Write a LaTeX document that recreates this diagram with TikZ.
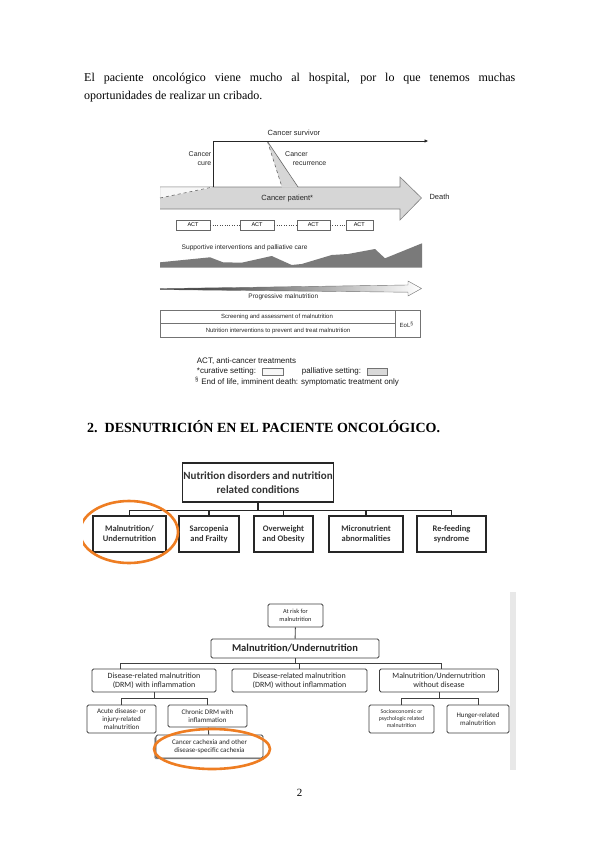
\documentclass[tikz,border=0pt]{standalone}
\usepackage{fontspec}
\setmainfont{Liberation Serif}
\newfontfamily\arialf{Liberation Sans}
\newfontfamily\calf{Carlito}
\usetikzlibrary{arrows.meta,calc}
\definecolor{orng}{HTML}{EE7D22}
\definecolor{arrfill}{HTML}{D6D6D6}
\definecolor{mount}{HTML}{7A7A7A}
\begin{document}
\begin{tikzpicture}[x=1pt,y=-1pt,
  body/.style={font=\fontsize{12}{14}\selectfont, inner sep=0pt},
  tl/.style={font=\arialf\fontsize{7.5}{8.5}\selectfont, inner sep=0pt, text=black!85},
  sl/.style={font=\arialf\fontsize{6}{7}\selectfont, inner sep=0pt, text=black!85},
  lg/.style={font=\arialf\fontsize{8}{9}\selectfont, inner sep=0pt, text=black!90},
  actbox/.style={draw=black!60, fill=white, minimum width=#1, minimum height=10pt, inner sep=0pt, font=\arialf\fontsize{5.5}{6}\selectfont},
  mbox/.style={draw=black!85, line width=1.3pt, font=\calf\bfseries\fontsize{8.5}{10}\selectfont, align=center, inner sep=1pt, text=black!80, fill=white, minimum height=36pt},
  bbox/.style={draw=black!75, line width=0.9pt, rounded corners=1.5pt, font=\calf\fontsize{8}{9}\selectfont, align=center, inner sep=0.5pt, fill=white, text=black!85},
  ring/.style={draw=orng, line width=2.6pt},
  conn/.style={draw=black!85, line width=1.2pt},
  conn2/.style={draw=black!75, line width=0.9pt},
]
\useasboundingbox (0,0) rectangle (599,848);
\fill[white] (0,0) rectangle (599,848);

% ---------- paragraph ----------
\node[body, anchor=base west] (p1) at (84,82) {\makebox[431pt][s]{El paciente oncológico viene mucho al hospital, por lo que tenemos muchas}};
\node[body, anchor=base west] (p2) at (84,100) {oportunidades de realizar un cribado.};

% ---------- cancer trajectory ----------
\fill[arrfill] (160,187) -- (400,187) -- (400,177) -- (421.5,198) -- (400,220) -- (400,209) -- (160,209) -- cycle;
\draw[black!50, line width=0.6pt] (160,187) -- (400,187) -- (400,177) -- (421.5,198) -- (400,220) -- (400,209) -- (160,209);
\fill[gray!6] (160.3,187.4) -- (213,187.4) -- (160.3,198) -- cycle;
\draw[dashed, black!60, line width=0.6pt] (160,198) -- (213,187);
\fill[arrfill] (267.5,141.5) -- (298,187.6) -- (282,187.6) -- cycle;
\draw[dashed, black!60, line width=0.6pt] (267.5,141.5) -- (282,187);
\draw[black!60, line width=0.6pt] (267.5,141.5) -- (298,187);
\draw[black!85, line width=0.9pt, -{Latex[length=4pt,width=3.5pt]}] (213,187) -- (213,141) -- (428.5,141);

\node[tl] (surv) at (294,132.7) {Cancer survivor};
\node[tl, font=\arialf\fontsize{7}{9}\selectfont, align=right, anchor=east] (cure) at (211.5,158.8) {Cancer\\cure};
\node[tl, font=\arialf\fontsize{7}{9}\selectfont, anchor=west] (rec1) at (285,154.3) {Cancer};
\node[tl, font=\arialf\fontsize{7}{9}\selectfont, anchor=west] (rec2) at (292.7,163.3) {recurrence};
\node[tl] (pat) at (287.3,199) {Cancer patient*};
\node[tl, anchor=west] (death) at (429.3,196.7) {Death};

\node[actbox=34pt] (a1) at (193,225) {ACT};
\node[actbox=34pt] (a2) at (257,225) {ACT};
\node[actbox=33pt] (a3) at (313.3,225) {ACT};
\node[actbox=27pt] (a4) at (359.3,225) {ACT};
\draw[dotted, black!70] (a1) -- (a2);
\draw[dotted, black!70] (a2) -- (a3);
\draw[dotted, black!70] (a3) -- (a4);

\node[tl, font=\arialf\fontsize{6.6}{8}\selectfont, anchor=west] (supp) at (181.5,247.8) {Supportive interventions and palliative care};
\fill[mount] (160,267.5) -- (160,262.3) -- (210,257.3) -- (223,262.3) -- (241.7,262.7) -- (271.7,256) -- (291.7,265) -- (301.7,264) -- (331.7,255) -- (348,254) -- (375,249) -- (385,258.3) -- (422,243.3) -- (422,267.5) -- cycle;

\shade[left color=black!85, right color=white] (160,288.6) -- (408,285) -- (408,281) -- (421.5,288.5) -- (408,296) -- (408,292.2) -- (160,289.6) -- cycle;
\draw[black!55, line width=0.4pt] (160,288.6) -- (408,285) -- (408,281) -- (421.5,288.5) -- (408,296) -- (408,292.2) -- (160,289.6);
\node[sl, font=\arialf\fontsize{6.5}{8}\selectfont] (prog) at (283.3,296.5) {Progressive malnutrition};

\draw[black!55, line width=0.5pt] (160,310) rectangle (420,337.3);
\draw[black!55, line width=0.5pt] (160,323.3) -- (395,323.3);
\draw[black!55, line width=0.5pt] (395,310) -- (395,337.3);
\node[sl] (scr) at (277,317) {Screening and assessment of malnutrition};
\node[sl] (nut) at (278,330.5) {Nutrition interventions to prevent and treat malnutrition};
\node[sl] (eol) at (406.7,324.5) {EoL\textsuperscript{\S}};

\node[lg, anchor=west] (lg1) at (196.7,361.5) {ACT, anti-cancer treatments};
\node[lg, anchor=west] (lg2) at (196.7,371.5) {*curative setting:};
\draw[black!55, fill=gray!6] (262.3,368) rectangle (283.3,375.2);
\node[lg, anchor=west] (lg3) at (301.7,371.5) {palliative setting:};
\draw[black!55, fill=gray!30] (366.7,368) rectangle (387.3,375.2);
\node[lg, anchor=west] (lg4) at (195,381.5) {\textsuperscript{\S} End of life, imminent death: symptomatic treatment only};

% ---------- heading ----------
\node[font=\bfseries\fontsize{14}{16}\selectfont, anchor=base west, inner sep=0pt] (head) at (87,432) {2.\hspace{7pt}DESNUTRICIÓN EN EL PACIENTE ONCOLÓGICO.};

% ---------- nutrition disorders ----------
\node[mbox, font=\calf\bfseries\fontsize{11}{13.5}\selectfont, minimum width=144pt, minimum height=39pt] (top) at (258,482.5) {Nutrition disorders and nutrition\\related conditions};
\node[mbox, minimum width=73pt] (m1) at (129.5,534) {Malnutrition/\\Undernutrition};
\node[mbox, minimum width=60pt] (m2) at (209,534) {Sarcopenia\\and Frailty};
\node[mbox, minimum width=59pt] (m3) at (283.5,534) {Overweight\\and Obesity};
\node[mbox, minimum width=74pt] (m4) at (366,534) {Micronutrient\\abnormalities};
\node[mbox, minimum width=69pt] (m5) at (451.5,534) {Re-feeding\\syndrome};
\foreach \m in {m1,m2,m3,m4,m5}{
  \draw[conn] (top.south) -- ++(0,7.5) -| (\m.north);
}
\begin{scope}
  \clip (83,480) rectangle (200,580);
  \draw[ring] (129,532) ellipse [x radius=49, y radius=31];
\end{scope}

% ---------- malnutrition classification ----------
\fill[gray!18] (510,592) rectangle (516,770);
\node[bbox, font=\calf\fontsize{6.3}{7.5}\selectfont, minimum width=55pt, minimum height=23pt] (b0) at (295.5,615.5) {At risk for\\malnutrition};
\node[bbox, font=\calf\bfseries\fontsize{10.5}{12}\selectfont, minimum width=168pt, minimum height=19pt] (b1) at (295,648.5) {Malnutrition/Undernutrition};
\node[bbox, minimum width=124pt, minimum height=23pt] (c1) at (154,680.5) {Disease-related malnutrition\\(DRM) with inflammation};
\node[bbox, minimum width=135pt, minimum height=23pt] (c2) at (299.5,680.5) {Disease-related malnutrition\\(DRM) without inflammation};
\node[bbox, minimum width=119pt, minimum height=23pt] (c3) at (439,680.5) {Malnutrition/Undernutrition\\without disease};
\node[bbox, font=\calf\fontsize{7}{8.3}\selectfont, minimum width=69pt, minimum height=28pt] (d1) at (121.5,719) {Acute disease- or\\injury-related\\malnutrition};
\node[bbox, font=\calf\fontsize{7}{8.3}\selectfont, minimum width=79pt, minimum height=22pt] (d2) at (207.5,716) {Chronic DRM with\\inflammation};
\fill[black!45, rounded corners=1.5pt] (154.3,736.5) rectangle (262,759.2);
\node[bbox, font=\calf\fontsize{7}{8.3}\selectfont, minimum width=107pt, minimum height=23pt] (d3) at (209.5,746.5) {Cancer cachexia and other\\disease-specific cachexia};
\node[bbox, font=\calf\fontsize{5.8}{7}\selectfont, minimum width=65pt, minimum height=28pt] (e1) at (401.5,719) {Socioeconomic or\\psychologic related\\malnutrition};
\node[bbox, font=\calf\fontsize{7}{8.3}\selectfont, minimum width=62pt, minimum height=28pt] (e2) at (478,719) {Hunger-related\\malnutrition};

\draw[conn2] (b0) -- (b1);
\draw[conn2] (b1.south) -- ++(0,4.5) -| ($(c1.north)+(-33.3,0)$);
\draw[conn2] (b1.south) -- ++(0,4.5) -| (c2.north);
\draw[conn2] (b1.south) -- ++(0,4.5) -| ($(c3.north)+(2.7,0)$);
\draw[conn2] (c1.south) -- ++(0,6) -| (d1.north);
\draw[conn2] (c1.south) -- ++(0,6) -| (d2.north);
\draw[conn2] (d2) -- (d3);
\draw[conn2] (c3.south) -- ++(0,6) -| (e1.north);
\draw[conn2] (c3.south) -- ++(0,6) -| (e2.north);
\draw[ring] (212,749) ellipse [x radius=58, y radius=20];

% ---------- page number ----------
\node[font=\fontsize{11}{12}\selectfont, inner sep=0pt] (pg) at (299.5,793) {2};
\end{tikzpicture}
\end{document}
